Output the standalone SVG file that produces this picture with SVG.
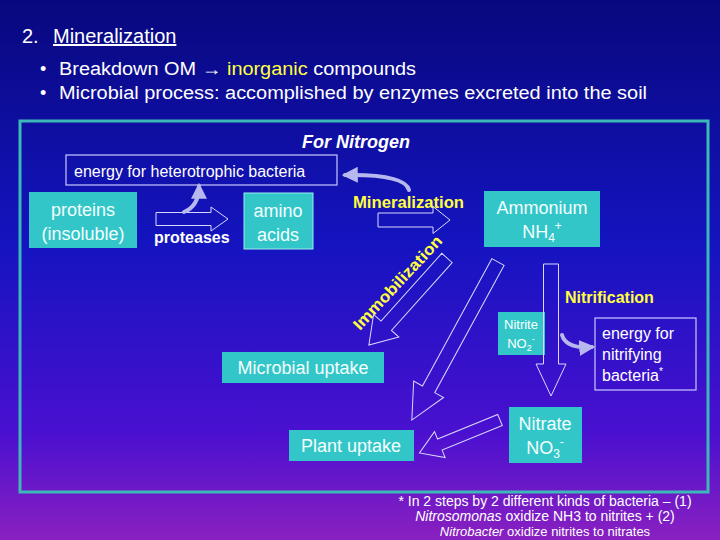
<svg xmlns="http://www.w3.org/2000/svg" width="720" height="540" viewBox="0 0 720 540">
<defs>
<linearGradient id="bg" x1="0" y1="0" x2="0" y2="1">
<stop offset="0" stop-color="#08087e"/><stop offset="0.45" stop-color="#1414c0"/><stop offset="0.8" stop-color="#4a10d0"/><stop offset="1" stop-color="#8a20c0"/>
</linearGradient>
<marker id="ah" viewBox="0 0 10 10" refX="8" refY="5" markerWidth="4" markerHeight="4" orient="auto"><path d="M0,0 L10,5 L0,10 z" fill="#b8b8f0"/></marker>
</defs>
<style>
text{font-family:"Liberation Sans",Arial,sans-serif;fill:#ffffff}
.box{fill:#33c6c8}
.bt{font-size:18px;fill:#f4ffff}
.y{fill:#ffff40;font-weight:bold;font-size:16px}
.ha{fill:none;stroke:#d8d8ff;stroke-width:1}
.curve{fill:none;stroke:#b8b8f0;stroke-width:4;stroke-linecap:round}
.wb{fill:none;stroke:#c8c8ff;stroke-width:1.2}
</style>
<rect width="720" height="540" fill="url(#bg)"/>
<text x="22" y="43" font-size="20">2.</text>
<text x="53" y="43" font-size="20" text-decoration="underline">Mineralization</text>
<text x="40" y="75" font-size="18">•</text>
<text x="59" y="75" font-size="18" textLength="357" lengthAdjust="spacingAndGlyphs">Breakdown OM → <tspan fill="#ffff40">inorganic</tspan> compounds</text>
<text x="40" y="99" font-size="18">•</text>
<text x="59" y="99" font-size="18" textLength="588" lengthAdjust="spacingAndGlyphs">Microbial process: accomplished by enzymes excreted into the soil</text>
<rect x="20" y="121" width="688" height="371" fill="none" stroke="#3cb8b8" stroke-width="3"/>
<text x="356" y="148" font-size="18" font-weight="bold" font-style="italic" text-anchor="middle">For Nitrogen</text>

<g id="energy-het"><rect x="66" y="155" width="271" height="30" class="wb"/><text x="74" y="177" font-size="16">energy for heterotrophic bacteria</text></g>
<g id="proteins"><rect x="29" y="192" width="108" height="56" class="box"/><text x="83" y="216" class="bt" text-anchor="middle">proteins</text><text x="83" y="240" class="bt" text-anchor="middle">(insoluble)</text></g>
<g id="amino"><rect x="244" y="193" width="69" height="56" class="box" stroke="#9ee" stroke-width="1"/><text x="278" y="217" class="bt" text-anchor="middle">amino</text><text x="278" y="241" class="bt" text-anchor="middle">acids</text></g>
<g id="ammonium"><rect x="484" y="191" width="116" height="56" class="box"/><text x="542" y="214" class="bt" text-anchor="middle">Ammonium</text><text x="542" y="238" class="bt" text-anchor="middle">NH<tspan font-size="12" dy="4">4</tspan><tspan font-size="12" dy="-12">+</tspan></text></g>
<g id="nitrite"><rect x="498" y="312" width="47" height="43" class="box"/><text x="521" y="329" font-size="13" fill="#b8f0f0" text-anchor="middle">Nitrite</text><text x="521" y="348" font-size="13" fill="#b8f0f0" text-anchor="middle">NO<tspan font-size="9" dy="3">2</tspan><tspan font-size="9" dy="-9">-</tspan></text></g>
<g id="energy-nit"><rect x="595" y="318" width="101" height="72" class="wb"/><text x="602" y="339" font-size="16">energy for</text><text x="602" y="360" font-size="16">nitrifying</text><text x="602" y="381" font-size="16">bacteria<tspan font-size="10" dy="-6">*</tspan></text></g>
<g id="microbial"><rect x="222" y="352" width="162" height="31" class="box"/><text x="303" y="374" class="bt" text-anchor="middle">Microbial uptake</text></g>
<g id="plant"><rect x="289" y="430" width="125" height="31" class="box"/><text x="351" y="452" class="bt" text-anchor="middle">Plant uptake</text></g>
<g id="nitrate"><rect x="509" y="407" width="73" height="56" class="box"/><text x="545" y="430" class="bt" text-anchor="middle">Nitrate</text><text x="545" y="454" class="bt" text-anchor="middle">NO<tspan font-size="12" dy="4">3</tspan><tspan font-size="12" dy="-12">-</tspan></text></g>

<text x="154" y="243" font-size="16" font-weight="bold">proteases</text>
<text x="353" y="208" class="y" textLength="111" lengthAdjust="spacingAndGlyphs">Mineralization</text>
<text x="565" y="303" class="y">Nitrification</text>
<text x="0" y="0" class="y" font-size="18" textLength="122" lengthAdjust="spacingAndGlyphs" transform="translate(360,331) rotate(-47)">Immobilization</text>

<g id="connectors">
<polygon class="ha" transform="translate(156,219)" points="0,-6.5 55,-6.5 55,-12 72,0 55,12 55,6.5 0,6.5"/>
<polygon class="ha" transform="translate(378,220)" points="0,-7 55,-7 55,-13.5 72,0 55,13.5 55,7 0,7"/>
<polygon class="ha" transform="translate(447,258) rotate(131.9)" points="0,-7 91,-7 91,-17 117,0 91,17 91,7 0,7"/>
<polygon class="ha" transform="translate(498,262) rotate(118.6)" points="0,-7 145,-7 145,-17 180,0 145,17 145,7 0,7"/>
<polygon class="ha" transform="translate(551,264) rotate(90)" points="0,-7.5 100,-7.5 100,-15 132,0 100,15 100,7.5 0,7.5"/>
<polygon class="ha" stroke="#ff90ff" transform="translate(500,420) rotate(157.8)" points="0,-6 65,-6 65,-14 87,0 65,14 65,6 0,6"/>
<path class="curve" d="M184,212 Q199,206 199,186" marker-end="url(#ah)"/>
<path class="curve" d="M409,190 Q405,174 345,175" marker-end="url(#ah)"/>
<path class="curve" d="M562,335 Q566,349 592,347" marker-end="url(#ah)"/>
</g>

<text x="545" y="506" font-size="14" text-anchor="middle">* In 2 steps by 2 different kinds of bacteria – (1)</text>
<text x="545" y="521" font-size="14" text-anchor="middle"><tspan font-style="italic">Nitrosomonas</tspan> oxidize NH3 to nitrites + (2)</text>
<text x="545" y="536" font-size="13" text-anchor="middle" fill="#ffd060"><tspan font-style="italic">Nitrobacter</tspan> oxidize nitrites to nitrates</text>
</svg>
